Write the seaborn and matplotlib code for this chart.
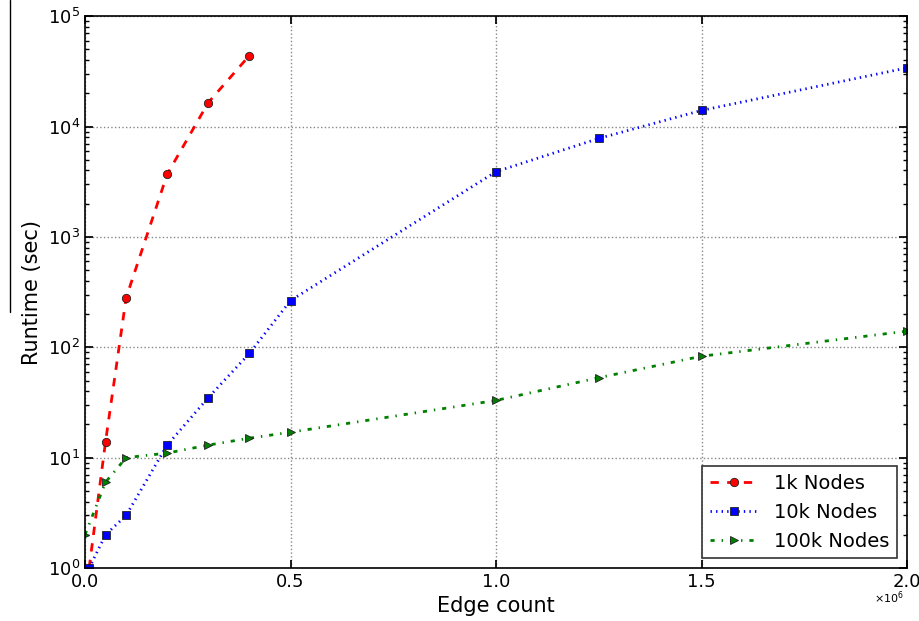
import matplotlib
matplotlib.use("Agg")
import matplotlib.pyplot as plt
from matplotlib.lines import Line2D
import seaborn as sns
import pandas as pd
import numpy as np

x_1k = [0.01e6, 0.05e6, 0.1e6, 0.2e6, 0.3e6, 0.4e6]
y_1k = [1.0, 14, 280, 3700, 16500, 44000]
x_10k = [0.01e6, 0.05e6, 0.1e6, 0.2e6, 0.3e6, 0.4e6, 0.5e6, 1.0e6, 1.25e6, 1.5e6, 2.0e6]
y_10k = [1.0, 2.0, 3.0, 13, 35, 88, 265, 3900, 7800, 14000, 34000]
x_100k = [0.0, 0.05e6, 0.1e6, 0.2e6, 0.3e6, 0.4e6, 0.5e6, 1.0e6, 1.25e6, 1.5e6, 2.0e6]
y_100k = [2.0, 6.0, 10, 11, 13, 15, 17, 33, 53, 83, 140]
labels = ["1k Nodes", "10k Nodes", "100k Nodes"]

sns.set_theme(style="white")
plt.rcParams['font.family'] = ['DejaVu Sans']
plt.rcParams.update({
    'text.color': 'black', 'axes.labelcolor': 'black',
    'xtick.color': 'black', 'ytick.color': 'black',
    'lines.scale_dashes': False,
})

fig = plt.figure(figsize=(9.19, 6.21), dpi=100)
ax = fig.add_axes([0.0925, 0.0853, 0.8945, 0.8887])

styles = [
    dict(color='red', dashes=(6, 6), marker='o'),
    dict(color='blue', dashes=(1, 3), marker='s'),
    dict(color='green', dashes=(3, 5, 1, 5), marker='>'),
]
series = [(x_1k, y_1k), (x_10k, y_10k), (x_100k, y_100k)]
for (xs, ys), lab, st in zip(series, labels, styles):
    df = pd.DataFrame({"x": xs, "y": ys})
    sns.lineplot(data=df, x="x", y="y", ax=ax, label=lab, color=st['color'],
                 marker=st['marker'], markersize=6,
                 markeredgecolor='#222222', markeredgewidth=0.6, linewidth=2,
                 sort=False, estimator=None)
    ax.lines[-1].set_dashes(st['dashes'])

ax.set_yscale('log')
ax.set_xlim(0, 2.0e6)
ax.set_ylim(1, 1e5)
ax.set_xticks([0, 0.5e6, 1.0e6, 1.5e6, 2.0e6])
ax.set_xticklabels(["0.0", "0.5", "1.0", "1.5", "2.0"])
ax.text(0.996, -0.054, r"$\times10^{6}$", transform=ax.transAxes, ha='right', va='center', fontsize=8)
ax.set_xlabel("Edge count", fontsize=15)
ax.set_ylabel("Runtime (sec)", fontsize=15)
ax.tick_params(axis='both', which='major', labelsize=13, direction='in', length=6,
               top=True, right=True, bottom=True, left=True, colors='black')
ax.tick_params(axis='y', which='minor', direction='in', length=3, left=True, right=True)
ax.grid(True, which='major', linestyle=':', color='#888888', linewidth=1)
for sp in ax.spines.values():
    sp.set_color('black')
    sp.set_linewidth(1.2)

leg = ax.legend(loc='lower right', fontsize=14, frameon=True, fancybox=False,
                edgecolor='black', handlelength=2.5, borderpad=0.4)
leg.get_frame().set_linewidth(1.2)
for h, st in zip(leg.get_lines(), styles):
    h.set_dashes(st['dashes'])
for t in leg.get_texts():
    t.set_color('black')

fig.add_artist(Line2D([10/919, 10/919], [1.0, (621-312)/621], color='black', linewidth=1))

fig.savefig("out.png", dpi=100, facecolor='white')
